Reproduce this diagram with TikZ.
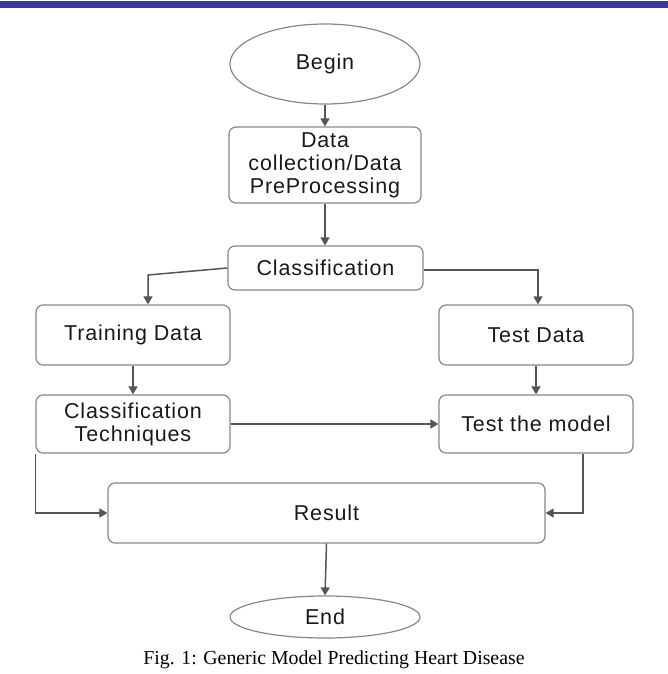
\documentclass[tikz,border=0pt]{standalone}
\usepackage{fontspec}
\setmainfont{Liberation Sans}[LetterSpace=4]
\newfontfamily\capfont{Liberation Serif}
\usetikzlibrary{shapes.geometric,arrows.meta}
\definecolor{barblue}{RGB}{56,56,158}
\definecolor{boxgray}{RGB}{135,135,135}
\definecolor{arrgray}{RGB}{85,85,85}
\definecolor{txt}{RGB}{25,25,25}
\begin{document}
\begin{tikzpicture}[x=1pt,y=-1pt,
  box/.style={draw=boxgray,line width=1.2pt,rounded corners=7pt,align=center,
    text=txt,font=\fontsize{21.5}{23}\selectfont,inner sep=0pt},
  oval/.style={draw=boxgray,line width=1.2pt,ellipse,inner sep=0pt,
    text=txt,font=\fontsize{21.5}{23}\selectfont},
  arr/.style={draw=arrgray,line width=1.5pt,-{Triangle[width=9pt,length=8pt]}}]
\useasboundingbox (0,0) rectangle (668,674);
\fill[barblue] (0,1) rectangle (668,8);
\node[oval,minimum width=190pt,minimum height=80pt] (begin) at (325,64) {Begin};
\node[box,minimum width=192pt,minimum height=76pt] (data) at (325,165) {Data\\collection/Data\\PreProcessing};
\node[box,minimum width=195pt,minimum height=44pt] (cls) at (325.5,268) {Classification};
\node[box,minimum width=194pt,minimum height=60pt] (train) at (133,335) {Training Data};
\node[box,minimum width=194pt,minimum height=60pt] (test) at (536,335) {Test Data};
\node[box,minimum width=194pt,minimum height=58pt] (tech) at (133,424) {Classification\\Techniques};
\node[box,minimum width=194pt,minimum height=58pt] (tmodel) at (536,424) {Test the model};
\node[box,minimum width=437pt,minimum height=60pt] (result) at (326.5,513) {Result};
\node[oval,minimum width=190pt,minimum height=42pt] (end) at (325,617) {End};
\node[font=\capfont\fontsize{19.8}{22}\selectfont] (cap) at (334,660) {Fig. 1: Generic Model Predicting Heart Disease};
\coordinate (c1) at (148,275);
\coordinate (c2) at (538,270);
\draw[arr] (begin.south) -- (data.north);
\draw[arr] (data.south) -- (data.south |- cls.north);
\draw[arr] (cls.west) -- (c1) -- (c1 |- train.north);
\draw[arr] (cls.east |- c2) -- (c2) -- (c2 |- test.north);
\draw[arr] (train.south) -- (tech.north);
\draw[arr] (test.south) -- (tmodel.north);
\draw[arr] (tech.east) -- (tmodel.west);
\draw[arr] (tech.south west) |- (result.west);
\draw[arr] ([xshift=47pt]tmodel.south) |- (result.east);
\draw[arr] (result.south) -- (end.north);
\end{tikzpicture}
\end{document}
